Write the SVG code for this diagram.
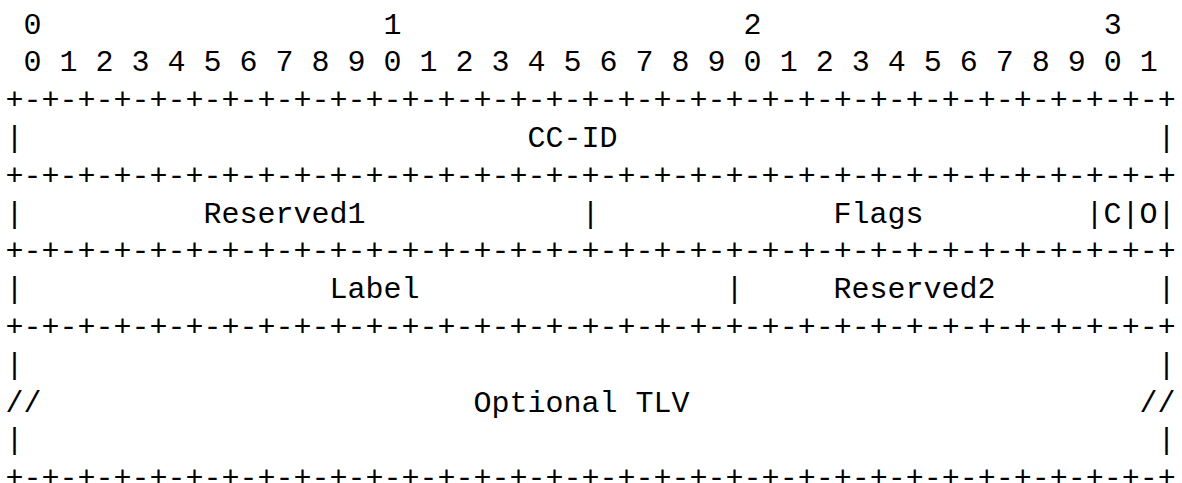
<svg xmlns="http://www.w3.org/2000/svg" width="1182" height="483" viewBox="0 0 1182 483">
<style>
text { font-family: "Liberation Mono", "Cousine", monospace; font-size: 30px; fill: #000; white-space: pre; }
</style>
<rect width="1182" height="483" fill="#fff"/>
<g id="ruler">
<text x="5.5" y="33.5" xml:space="preserve"> 0                   1                   2                   3</text>
<text x="5.5" y="71.3" xml:space="preserve"> 0 1 2 3 4 5 6 7 8 9 0 1 2 3 4 5 6 7 8 9 0 1 2 3 4 5 6 7 8 9 0 1</text>
</g>
<g id="connectors">
<text x="5.5" y="109.1">+-+-+-+-+-+-+-+-+-+-+-+-+-+-+-+-+-+-+-+-+-+-+-+-+-+-+-+-+-+-+-+-+</text>
<text x="5.5" y="184.7">+-+-+-+-+-+-+-+-+-+-+-+-+-+-+-+-+-+-+-+-+-+-+-+-+-+-+-+-+-+-+-+-+</text>
<text x="5.5" y="260.3">+-+-+-+-+-+-+-+-+-+-+-+-+-+-+-+-+-+-+-+-+-+-+-+-+-+-+-+-+-+-+-+-+</text>
<text x="5.5" y="335.9">+-+-+-+-+-+-+-+-+-+-+-+-+-+-+-+-+-+-+-+-+-+-+-+-+-+-+-+-+-+-+-+-+</text>
<text x="5.5" y="487.1">+-+-+-+-+-+-+-+-+-+-+-+-+-+-+-+-+-+-+-+-+-+-+-+-+-+-+-+-+-+-+-+-+</text>
<text x="5.5" y="146.9">|</text><text x="1157.5" y="146.9">|</text>
<text x="5.5" y="222.5">|</text><text x="581.5" y="222.5">|</text><text x="1085.5" y="222.5">|C|O|</text>
<text x="5.5" y="298.1">|</text><text x="725.5" y="298.1">|</text><text x="1157.5" y="298.1">|</text>
<text x="5.5" y="373.7">|</text><text x="1157.5" y="373.7">|</text>
<text x="5.5" y="411.5">//</text><text x="1139.5" y="411.5">//</text>
<text x="5.5" y="449.3">|</text><text x="1157.5" y="449.3">|</text>
</g>
<g id="cc-id"><text x="527.5" y="146.9">CC-ID</text></g>
<g id="reserved1"><text x="203.5" y="222.5">Reserved1</text></g>
<g id="flags"><text x="833.5" y="222.5">Flags</text></g>
<g id="label"><text x="329.5" y="298.1">Label</text></g>
<g id="reserved2"><text x="833.5" y="298.1">Reserved2</text></g>
<g id="optional-tlv"><text x="473.5" y="411.5">Optional TLV</text></g>
</svg>
